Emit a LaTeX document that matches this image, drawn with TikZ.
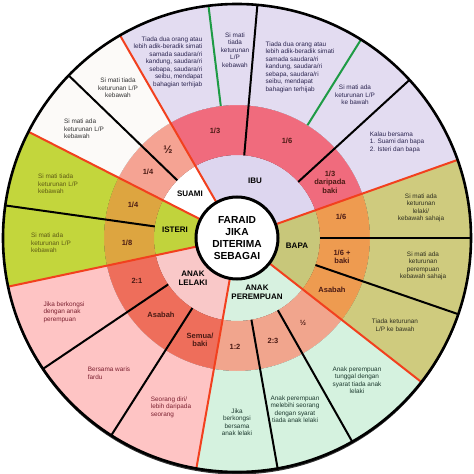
\documentclass[tikz,border=0pt]{standalone}
\usepackage{fontspec}
\setmainfont{Liberation Sans}

\definecolor{ibuOuter}{HTML}{E3DCF1}
\definecolor{ibuName}{HTML}{DDD6EF}
\definecolor{ibuFrac}{HTML}{F06B7D}
\definecolor{suamiOuter}{HTML}{FCFAF8}
\definecolor{suamiName}{HTML}{FFFFFF}
\definecolor{suamiFrac}{HTML}{F5A393}
\definecolor{isteriOuter}{HTML}{C3D63C}
\definecolor{isteriName}{HTML}{C1D33C}
\definecolor{isteriFrac}{HTML}{DDA540}
\definecolor{lelakiOuter}{HTML}{FEC4C4}
\definecolor{lelakiName}{HTML}{F9C8C8}
\definecolor{lelakiFrac}{HTML}{EE6E5B}
\definecolor{perempuanOuter}{HTML}{D5F2DF}
\definecolor{perempuanName}{HTML}{D7F1E0}
\definecolor{perempuanFrac}{HTML}{F1A58D}
\definecolor{bapaOuter}{HTML}{CFCB7E}
\definecolor{bapaName}{HTML}{C8C77A}
\definecolor{bapaFrac}{HTML}{EE9B50}
\definecolor{heirred}{HTML}{F2401E}
\definecolor{hintgreen}{HTML}{1E9B45}
\definecolor{fracink}{HTML}{4A1A14}
\definecolor{ibuink}{HTML}{2B2550}
\definecolor{isteriink}{HTML}{5E5A14}
\definecolor{lelakiink}{HTML}{7B2030}
\definecolor{perempuanink}{HTML}{1E3B30}
\definecolor{bapaink}{HTML}{2F2F1F}

% one piece of a ring: start angle, end angle, inner radius, outer radius, colour
\newcommand{\ringpart}[5]{\fill[#5] (#1:#3) arc[start angle=#1, end angle=#2, radius=#3] -- (#2:#4) arc[start angle=#2, end angle=#1, radius=#4] -- cycle;}

\begin{document}
\begin{tikzpicture}[x=1pt, y=1pt,
  outertext/.style={font=\fontsize{6.4}{7.5}\selectfont, inner sep=0pt, align=center},
  fractext/.style={font=\fontsize{7.5}{8.6}\selectfont\bfseries, text=fracink, inner sep=0pt, align=center},
  halftext/.style={fractext, font=\fontsize{11}{12}\selectfont\bfseries},
  nametext/.style={font=\fontsize{8}{9}\selectfont\bfseries, text=black, inner sep=0pt, align=center},
  heirline/.style={line width=2pt, draw=heirred},
  partline/.style={line width=2pt, draw=black},
  hintline/.style={line width=2pt, draw=hintgreen}]
\fill [white] (-237,-236) rectangle (237,238);
\useasboundingbox (-237,-236) rectangle (237,238);

% shadow under the wheel
\fill [black!80] (0,-2.5) circle[radius=234pt];

% rings: name, fraction, condition
\ringpart{19.5}{120}{41pt}{83pt}{ibuName}
\ringpart{19.5}{120}{83pt}{133pt}{ibuFrac}
\ringpart{19.5}{120}{133pt}{234pt}{ibuOuter}
\ringpart{120}{153}{41pt}{83pt}{suamiName}
\ringpart{120}{153}{83pt}{133pt}{suamiFrac}
\ringpart{120}{153}{133pt}{234pt}{suamiOuter}
\ringpart{153}{192}{41pt}{83pt}{isteriName}
\ringpart{153}{192}{83pt}{133pt}{isteriFrac}
\ringpart{153}{192}{133pt}{234pt}{isteriOuter}
\ringpart{192}{260}{41pt}{83pt}{lelakiName}
\ringpart{192}{260}{83pt}{133pt}{lelakiFrac}
\ringpart{192}{260}{133pt}{234pt}{lelakiOuter}
\ringpart{260}{322}{41pt}{83pt}{perempuanName}
\ringpart{260}{322}{83pt}{133pt}{perempuanFrac}
\ringpart{260}{322}{133pt}{234pt}{perempuanOuter}
\ringpart{-38}{19.5}{41pt}{83pt}{bapaName}
\ringpart{-38}{19.5}{83pt}{133pt}{bapaFrac}
\ringpart{-38}{19.5}{133pt}{234pt}{bapaOuter}

% dividers
\draw [hintline] (58:133pt) -- (58:234pt);
\draw [hintline] (97:133pt) -- (97:234pt);
\draw [partline] (42.5:83pt) -- (42.5:234pt);
\draw [partline] (85:83pt) -- (85:234pt);
\draw [partline] (136:83pt) -- (136:234pt);
\draw [partline] (172:83pt) -- (172:234pt);
\draw [partline] (214:83pt) -- (214:234pt);
\draw [partline] (237.5:83pt) -- (237.5:234pt);
\draw [partline] (280:83pt) -- (280:234pt);
\draw [partline] (299.5:83pt) -- (299.5:234pt);
\draw [partline] (-19:83pt) -- (-19:234pt);
\draw [partline] (0:83pt) -- (0:234pt);
\draw [heirline] (19.5:41pt) -- (19.5:234pt);
\draw [heirline] (120:41pt) -- (120:234pt);
\draw [heirline] (153:41pt) -- (153:234pt);
\draw [heirline] (192:41pt) -- (192:234pt);
\draw [heirline] (260:41pt) -- (260:234pt);
\draw [heirline] (322:41pt) -- (322:234pt);

\draw [line width=2.6pt] (0,0) circle[radius=234pt];
\draw [line width=3pt, fill=white] (0,0) circle[radius=41pt];
\node [font=\fontsize{10.2}{11.7}\selectfont\bfseries, align=center, inner sep=0pt] (hub) at (0,0) {FARAID\\JIKA\\DITERIMA\\SEBAGAI};

% heirs
\node [nametext] (ibu) at (18,57) {IBU};
\node [nametext] (suami) at (-47,44) {SUAMI};
\node [nametext] (isteri) at (-62,8) {ISTERI};
\node [nametext] (lelaki) at (-44,-40) {ANAK\\LELAKI};
\node [nametext] (perempuan) at (20,-54) {ANAK\\PEREMPUAN};
\node [nametext] (bapa) at (60,-8) {BAPA};

% shares
\node [fractext] (ibuA) at (-22,107) {1/3};
\node [fractext] (ibuB) at (50,97) {1/6};
\node [fractext] (ibuC) at (93,56) {1/3\\daripada\\baki};
\node [halftext] (suamiA) at (-69,88) {½};
\node [fractext] (suamiB) at (-89,66) {1/4};
\node [fractext] (isteriA) at (-104,33) {1/4};
\node [fractext] (isteriB) at (-110,-5) {1/8};
\node [fractext] (lelakiA) at (-100,-43) {2:1};
\node [fractext] (lelakiB) at (-76,-77) {Asabah};
\node [fractext] (lelakiC) at (-37,-102) {Semua/\\baki};
\node [fractext] (perempuanA) at (-2,-109) {1:2};
\node [fractext] (perempuanB) at (36,-103) {2:3};
\node [fractext] (perempuanC) at (66,-85) {½};
\node [fractext] (bapaA) at (95,-52) {Asabah};
\node [fractext] (bapaB) at (105,-19) {1/6 +\\baki};
\node [fractext] (bapaC) at (104,21) {1/6};

% conditions
\node [outertext, text=ibuink, align=right] (ibuTxtA) at (-69,176) {Tiada dua orang atau\\lebih adik-beradik simati\\samada saudara/ri\\kandung, saudara/ri\\sebapa, saudara/ri\\seibu, mendapat\\bahagian terhijab};
\node [outertext, text=ibuink] (ibuTxtB) at (-2,188) {Si mati\\tiada\\keturunan\\L/P\\kebawah};
\node [outertext, text=ibuink, align=left] (ibuTxtC) at (63,171) {Tiada dua orang atau\\lebih adik-beradik simati\\samada saudara/ri\\kandung, saudara/ri\\sebapa, saudara/ri\\seibu, mendapat\\bahagian terhijab};
\node [outertext, text=ibuink] (ibuTxtD) at (118,143) {Si mati ada\\keturunan L/P\\ke bawah};
\node [outertext, text=ibuink, align=left] (ibuTxtE) at (160,96) {Kalau bersama\\1. Suami dan bapa\\2. Isteri dan bapa};
\node [outertext, text=black!80] (suamiTxtA) at (-119,150) {Si mati tiada\\keturunan L/P\\kebawah};
\node [outertext, text=black!80, align=left] (suamiTxtB) at (-153,109) {Si mati ada\\keturunan L/P\\kebawah};
\node [outertext, text=isteriink, align=left] (isteriTxtA) at (-179,54) {Si mati tiada\\keturunan L/P\\kebawah};
\node [outertext, text=isteriink, align=left] (isteriTxtB) at (-186,-5) {Si mati ada\\keturunan L/P\\kebawah};
\node [outertext, text=lelakiink, align=left] (lelakiTxtA) at (-173,-74) {Jika berkongsi\\dengan anak\\perempuan};
\node [outertext, text=lelakiink, align=left] (lelakiTxtB) at (-128,-135) {Bersama waris\\fardu};
\node [outertext, text=lelakiink, align=left] (lelakiTxtC) at (-66,-169) {Seorang diri/\\lebih daripada\\seorang};
\node [outertext, text=perempuanink] (perempuanTxtA) at (0,-184) {Jika\\berkongsi\\bersama\\anak lelaki};
\node [outertext, text=perempuanink] (perempuanTxtB) at (58,-171) {Anak perempuan\\melebihi seorang\\dengan syarat\\tiada anak lelaki};
\node [outertext, text=perempuanink] (perempuanTxtC) at (120,-142) {Anak perempuan\\tunggal dengan\\syarat tiada anak\\lelaki};
\node [outertext, text=bapaink] (bapaTxtA) at (158,-87) {Tiada keturunan\\L/P ke bawah};
\node [outertext, text=bapaink] (bapaTxtB) at (186,-28) {Si mati ada\\keturunan\\perempuan\\kebawah sahaja};
\node [outertext, text=bapaink] (bapaTxtC) at (184,30) {Si mati ada\\keturunan\\lelaki/\\kebawah sahaja};
\end{tikzpicture}
\end{document}
